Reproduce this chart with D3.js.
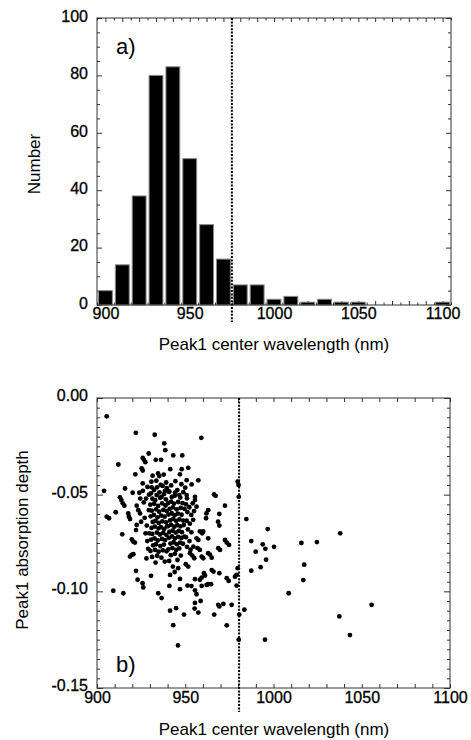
<!DOCTYPE html>
<html>
<head>
<meta charset="utf-8">
<script src="https://cdn.jsdelivr.net/npm/d3@7"></script>
<style>
  body { margin: 0; background: #fff; }
  text { font-family: "Liberation Sans", Arial, Helvetica, sans-serif; fill: #000; }
</style>
</head>
<body>
<svg id="chart" width="471" height="740"></svg>
<script>
// panel a: histogram, bins centred on these wavelengths (nm)
const binCenters = [900, 910, 920, 930, 940, 950, 960, 970, 980, 990, 1000, 1010, 1020, 1030, 1040, 1050, 1100];
const binCounts  = [5, 14, 38, 80, 83, 51, 28, 16, 7, 7, 2, 3, 1, 2, 1, 1, 1];
const cutoffA = 975;
const cutoffB = 980.5;

const xTickLabels = [900, 950, 1000, 1050, 1100];
const yTicksA = [0, 20, 40, 60, 80, 100];
const yTicksB = [0, -0.05, -0.10, -0.15];

// panel b: [center wavelength (nm), absorption depth]
const scatterPoints = [
  // 900-910
  [905.5,-0.0095],[904.0,-0.0480],[905.5,-0.0614],[906.8,-0.0622],[909.2,-0.0997],
  // 910-920
  [912.1,-0.0344],[910.6,-0.0591],[913.0,-0.0514],[913.8,-0.0528],[914.6,-0.0545],
  [915.5,-0.0557],[915.9,-0.0468],[914.3,-0.0705],[914.9,-0.1010],[917.7,-0.0597],
  [918.1,-0.0614],[918.7,-0.0626],[918.7,-0.0820],[919.6,-0.0812],[919.7,-0.0732],
  // 920-930
  [922.0,-0.0180],[925.9,-0.0310],[926.6,-0.0320],[927.4,-0.0332],[929.3,-0.0287],
  [925.3,-0.0364],[925.9,-0.0375],[921.7,-0.0395],[925.9,-0.0442],[920.2,-0.0490],
  [924.0,-0.0490],[920.6,-0.0743],[922.5,-0.0657],[922.1,-0.0683],[920.6,-0.0808],
  [922.1,-0.0894],[923.0,-0.0940],[925.8,-0.0958],[926.2,-0.0980],[922.5,-0.0557],
  [923.4,-0.0580],[924.4,-0.0597],[926.5,-0.0540],[927.0,-0.0620],[928.2,-0.0660],
  [927.5,-0.0700],[928.5,-0.0740],[929.0,-0.0780],[927.8,-0.0520],[926.0,-0.0480],
  [928.6,-0.0460],[929.4,-0.0580],[925.0,-0.0640],[921.5,-0.0748],[928.0,-0.0830],
  [929.5,-0.0500],[929.6,-0.0700],[924.5,-0.0520],
  // 930-940
  [932.7,-0.0190],[938.1,-0.0235],[938.7,-0.0270],[933.3,-0.0320],[936.3,-0.0320],
  [934.6,-0.0390],[935.3,-0.0404],[936.1,-0.0449],[931.0,-0.0462],[932.3,-0.0476],
  [938.5,-0.0481],[933.8,-0.0502],[936.6,-0.0511],[930.6,-0.0920],[934.7,-0.1010],
  [936.6,-0.1035],
  [931.5,-0.0402],[937.8,-0.0396],
  [930.8,-0.0433],[933.6,-0.0428],[939.2,-0.0437],
  [934.0,-0.0462],[937.2,-0.0455],[939.6,-0.0466],
  [930.6,-0.0493],[935.4,-0.0488],[938.0,-0.0497],
  [931.4,-0.0521],[933.0,-0.0528],[935.8,-0.0516],[939.0,-0.0524],
  [930.2,-0.0552],[932.4,-0.0547],[934.6,-0.0558],[936.9,-0.0545],[938.8,-0.0556],
  [931.0,-0.0583],[933.5,-0.0576],[935.2,-0.0588],[937.6,-0.0579],[939.5,-0.0585],
  [930.4,-0.0612],[932.2,-0.0605],[934.3,-0.0617],[936.4,-0.0608],[938.3,-0.0614],
  [931.6,-0.0641],[933.1,-0.0636],[935.0,-0.0646],[937.0,-0.0638],[939.1,-0.0643],
  [930.9,-0.0672],[932.7,-0.0665],[934.8,-0.0674],[936.2,-0.0668],[938.0,-0.0677],[939.7,-0.0664],
  [931.3,-0.0703],[933.9,-0.0696],[935.6,-0.0706],[937.5,-0.0698],[939.3,-0.0708],
  [930.7,-0.0733],[932.6,-0.0726],[934.4,-0.0737],[936.8,-0.0729],[938.6,-0.0735],
  [931.8,-0.0762],[933.4,-0.0757],[935.9,-0.0766],[937.9,-0.0758],
  [930.3,-0.0791],[932.9,-0.0786],[934.9,-0.0795],[937.3,-0.0788],[939.4,-0.0793],
  [931.2,-0.0822],[934.1,-0.0816],[936.5,-0.0826],
  [933.2,-0.0851],[938.4,-0.0846],
  // 940-950
  [943.2,-0.0297],[948.3,-0.0297],[941.5,-0.0368],[948.0,-0.0368],[947.0,-0.0395],
  [944.4,-0.0430],[941.0,-0.0485],[944.2,-0.0490],[946.6,-0.0502],[941.0,-0.0972],
  [941.4,-0.1100],[944.8,-0.1087],[943.2,-0.1175],[945.9,-0.1280],[949.3,-0.1120],
  [947.0,-0.0989],[947.0,-0.0936],[941.4,-0.0915],[944.0,-0.0900],[946.0,-0.0880],
  [942.0,-0.0452],[947.8,-0.0446],
  [940.6,-0.0483],[945.5,-0.0476],[948.9,-0.0487],
  [942.4,-0.0512],[944.0,-0.0506],[947.2,-0.0515],
  [940.3,-0.0543],[941.9,-0.0536],[943.6,-0.0546],[946.0,-0.0538],[948.5,-0.0544],
  [941.2,-0.0573],[943.0,-0.0566],[945.1,-0.0576],[947.4,-0.0568],[949.6,-0.0574],
  [940.5,-0.0603],[942.3,-0.0596],[944.0,-0.0606],[945.8,-0.0598],[947.9,-0.0604],
  [941.4,-0.0633],[943.2,-0.0626],[944.9,-0.0636],[946.7,-0.0628],[948.8,-0.0634],
  [940.2,-0.0663],[942.0,-0.0656],[943.8,-0.0666],[945.5,-0.0658],[947.3,-0.0664],[949.2,-0.0657],
  [941.0,-0.0693],[942.8,-0.0686],[944.6,-0.0696],[946.3,-0.0688],[948.1,-0.0694],
  [940.7,-0.0723],[942.5,-0.0716],[944.2,-0.0726],[946.0,-0.0718],[947.8,-0.0724],[949.5,-0.0717],
  [941.6,-0.0753],[943.4,-0.0746],[945.2,-0.0756],[947.1,-0.0748],[948.7,-0.0754],
  [940.4,-0.0783],[942.7,-0.0776],[944.8,-0.0786],[946.6,-0.0778],
  [941.8,-0.0813],[944.1,-0.0806],[947.5,-0.0815],
  [940.9,-0.0843],[945.6,-0.0838],
  [943.0,-0.0872],
  // 950-960
  [959.1,-0.0206],[951.7,-0.0361],[950.8,-0.0425],[953.6,-0.0447],[957.4,-0.0426],
  [950.0,-0.0464],[950.8,-0.0502],[951.0,-0.0519],[955.5,-0.0511],[955.5,-0.0528],
  [956.4,-0.0562],[958.3,-0.0690],[959.6,-0.0700],[956.4,-0.0726],[957.4,-0.0734],
  [957.0,-0.0777],[958.3,-0.0786],[954.6,-0.0769],[952.7,-0.0803],[954.0,-0.0815],
  [955.1,-0.0829],[959.3,-0.0820],[951.7,-0.0872],[950.3,-0.0860],[951.3,-0.0970],
  [953.5,-0.0973],[955.5,-0.0937],[955.5,-0.0995],[956.4,-0.1015],[958.3,-0.0940],
  [959.3,-0.0929],[958.7,-0.1050],[955.5,-0.1060],[955.3,-0.1089],[957.4,-0.1110],
  [959.3,-0.0972],
  [950.5,-0.0550],[952.3,-0.0565],[954.2,-0.0545],[951.2,-0.0590],[953.4,-0.0605],
  [955.0,-0.0585],[950.8,-0.0635],[952.6,-0.0650],[954.5,-0.0630],[951.5,-0.0680],
  [953.5,-0.0695],[950.4,-0.0720],[952.4,-0.0740],[951.0,-0.0770],[953.0,-0.0785],
  // 960-970
  [962.0,-0.0597],[963.0,-0.0580],[961.8,-0.0622],[960.2,-0.0690],[963.0,-0.0726],
  [966.3,-0.0499],[967.2,-0.0506],[969.3,-0.0600],[968.6,-0.0640],[969.3,-0.0660],
  [968.7,-0.0777],[969.7,-0.0786],[960.2,-0.0829],[963.0,-0.0803],[964.0,-0.0810],
  [965.0,-0.0826],[965.0,-0.0890],[966.0,-0.0898],[969.3,-0.0906],[960.6,-0.0906],
  [961.2,-0.0918],[962.1,-0.0967],[963.0,-0.0963],[964.6,-0.0963],[968.7,-0.1070],
  [966.4,-0.1120],[969.3,-0.1078],
  // 970-980
  [972.5,-0.0557],[972.5,-0.0734],[973.5,-0.0748],[974.8,-0.0760],[971.6,-0.1065],
  [976.3,-0.1070],[973.5,-0.1176],[974.6,-0.0946],[973.5,-0.0932],[978.2,-0.0924],
  [979.1,-0.0915],[979.7,-0.0880],[979.1,-0.0970],[979.7,-0.0433],
  // 980-990
  [980.3,-0.0511],[980.2,-0.0450],[984.6,-0.0626],[987.4,-0.0740],[989.9,-0.0795],
  [987.4,-0.0893],[983.5,-0.1095],[980.6,-0.1120],[980.3,-0.1250],
  // 990-1000
  [993.9,-0.0757],[995.4,-0.0780],[996.7,-0.0678],[995.8,-0.0836],[992.7,-0.0875],
  [995.2,-0.1250],
  // > 1000
  [1000.3,-0.0770],[1008.6,-0.1010],[1015.8,-0.0750],[1016.9,-0.0942],[1017.4,-0.0862],
  [1024.6,-0.0745],[1037.8,-0.0700],[1037.3,-0.1130],[1043.3,-0.1226],[1055.6,-0.1070]
];

const svg = d3.select("#chart");
const frameColor = "#333";

// ticks drawn inward from a frame side
function innerTicks(parent, makeAxis, offset, values, len) {
  const g = parent.append("g").attr("transform", offset);
  g.call(makeAxis().tickValues(values).tickSize(-len).tickFormat(""));
  g.select(".domain").remove();
  g.selectAll(".tick line").attr("stroke", frameColor);
}

function styleLabels(g, dy) {
  g.select(".domain").remove();
  g.selectAll("text")
    .style("font-size", "16px")
    .attr("stroke", "#000").attr("stroke-width", 0.3);
  if (dy) g.selectAll("text").attr("dy", dy);
}

// ---------- panel a ----------
const xA = d3.scaleLinear().domain([895, 1105]).range([97, 451]);
const yA = d3.scaleLinear().domain([0, 100]).range([305, 18]);
const gA = svg.append("g");

const xAllA = d3.range(895, 1106, 5);
const x10A = xAllA.filter(v => v % 10 === 0);
const x5A = xAllA.filter(v => v % 10 !== 0);
const yMinorA = d3.range(0, 101, 5).filter(v => v % 20 !== 0);

[[() => d3.axisBottom(xA), "translate(0,305)"], [() => d3.axisTop(xA), "translate(0,18)"]].forEach(([mk, t]) => {
  innerTicks(gA, mk, t, x5A, 2.5);
  innerTicks(gA, mk, t, x10A, 4);
});
[[() => d3.axisLeft(yA), "translate(97,0)"], [() => d3.axisRight(yA), "translate(451,0)"]].forEach(([mk, t]) => {
  innerTicks(gA, mk, t, yMinorA, 3);
  innerTicks(gA, mk, t, yTicksA, 5);
});

gA.selectAll("rect.bar")
  .data(binCenters.map((c, i) => ({c, n: binCounts[i]})))
  .join("rect")
  .attr("class", "bar")
  .attr("x", d => xA(d.c - 5) + 1.5)
  .attr("width", d => xA(d.c + 5) - xA(d.c - 5) - 3)
  .attr("y", d => yA(d.n))
  .attr("height", d => yA(0) - yA(d.n))
  .attr("fill", "#000")
  .attr("stroke", "#8a8a8a")
  .attr("stroke-width", 1);

gA.append("rect")
  .attr("x", 97).attr("y", 18).attr("width", 354).attr("height", 287)
  .attr("fill", "none").attr("stroke", frameColor).attr("stroke-width", 1);

styleLabels(gA.append("g").attr("transform", "translate(0,305)")
  .call(d3.axisBottom(xA).tickValues(xTickLabels).tickSize(0).tickPadding(3).tickFormat(d3.format("d"))));
styleLabels(gA.append("g").attr("transform", "translate(97,0)")
  .call(d3.axisLeft(yA).tickValues(yTicksA).tickSize(0).tickPadding(9).tickFormat(d3.format("d"))), "0.2em");

gA.append("line")
  .attr("x1", xA(cutoffA)).attr("x2", xA(cutoffA))
  .attr("y1", 18).attr("y2", 322)
  .attr("stroke", "#000").attr("stroke-width", 2).attr("stroke-dasharray", "2,1.4");

gA.append("text").attr("x", 116).attr("y", 54).style("font-size", "22px").text("a)");
gA.append("text").attr("x", 274).attr("y", 350).attr("text-anchor", "middle")
  .style("font-size", "17px").text("Peak1 center wavelength (nm)");
gA.append("text").attr("transform", "translate(40,164) rotate(-90)").attr("text-anchor", "middle")
  .style("font-size", "17px").text("Number");

// ---------- panel b ----------
const xB = d3.scaleLinear().domain([900, 1100]).range([97, 450]);
const yB = d3.scaleLinear().domain([-0.15, 0]).range([688, 398]);
const gB = svg.append("g");

const xMinorB = d3.range(900, 1101, 10);
const yMinorB = d3.range(0, 31).filter(i => i % 10 !== 0).map(i => -i * 0.005);

[[() => d3.axisBottom(xB), "translate(0,688)"], [() => d3.axisTop(xB), "translate(0,398)"]].forEach(([mk, t]) => {
  innerTicks(gB, mk, t, xMinorB, 4);
});
[[() => d3.axisLeft(yB), "translate(97,0)"], [() => d3.axisRight(yB), "translate(450,0)"]].forEach(([mk, t]) => {
  innerTicks(gB, mk, t, yMinorB, 3);
  innerTicks(gB, mk, t, yTicksB, 6);
});

gB.append("rect")
  .attr("x", 97).attr("y", 398).attr("width", 353).attr("height", 290)
  .attr("fill", "none").attr("stroke", frameColor).attr("stroke-width", 1);

gB.append("line")
  .attr("x1", xB(cutoffB)).attr("x2", xB(cutoffB))
  .attr("y1", 398).attr("y2", 712)
  .attr("stroke", "#000").attr("stroke-width", 2).attr("stroke-dasharray", "2,1.4");

gB.selectAll("circle")
  .data(scatterPoints)
  .join("circle")
  .attr("cx", d => xB(d[0]))
  .attr("cy", d => yB(d[1]))
  .attr("r", 2.4)
  .attr("fill", "#000");

styleLabels(gB.append("g").attr("transform", "translate(0,688)")
  .call(d3.axisBottom(xB).tickValues(xTickLabels).tickSize(0).tickPadding(3.5).tickFormat(d3.format("d"))));
styleLabels(gB.append("g").attr("transform", "translate(97,0)")
  .call(d3.axisLeft(yB).tickValues(yTicksB).tickSize(0).tickPadding(9).tickFormat(d => d.toFixed(2))), "0.15em");

gB.append("text").attr("x", 116).attr("y", 672).style("font-size", "22px").text("b)");
gB.append("text").attr("x", 274).attr("y", 735).attr("text-anchor", "middle")
  .style("font-size", "17px").text("Peak1 center wavelength (nm)");
gB.append("text").attr("transform", "translate(28,540) rotate(-90)").attr("text-anchor", "middle")
  .style("font-size", "17px").text("Peak1 absorption depth");
</script>
</body>
</html>
